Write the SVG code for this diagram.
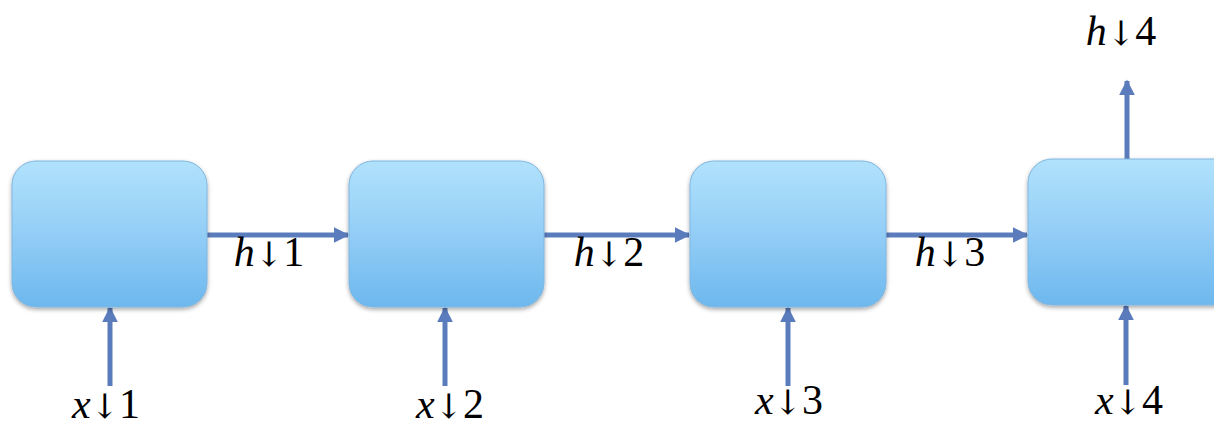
<svg xmlns="http://www.w3.org/2000/svg" width="1214" height="425" viewBox="0 0 1214 425">
<style>
.lbl{font-family:"Liberation Serif","Times New Roman",serif;font-size:42px;fill:#000;text-anchor:middle}
.it{font-style:italic}
.ar{font-family:"DejaVu Serif",serif;font-style:italic;font-size:34px}
.con{stroke:#5b7cbc;stroke-width:5;fill:none;marker-end:url(#ah)}
.box{fill:url(#g);stroke:#7fb6e0;stroke-width:1;filter:url(#sh)}
</style>
<defs>
<linearGradient id="g" x1="0" y1="0" x2="0" y2="1">
<stop offset="0" stop-color="#b1e2fc"/>
<stop offset="0.5" stop-color="#93cdf6"/>
<stop offset="1" stop-color="#6db8ee"/>
</linearGradient>
<filter id="sh" x="-10%" y="-10%" width="120%" height="125%">
<feDropShadow dx="0" dy="2" stdDeviation="2" flood-color="#000" flood-opacity="0.35"/>
</filter>
<marker id="ah" viewBox="0 0 10 10" refX="9" refY="5" markerWidth="3.2" markerHeight="3.2" orient="auto" markerUnits="strokeWidth">
<path d="M0,0 L10,5 L0,10 z" fill="#5b7cbc"/>
</marker>
</defs>
<g id="connectors">
<line class="con" x1="207" y1="235" x2="348" y2="235"/>
<line class="con" x1="544" y1="235" x2="689" y2="235"/>
<line class="con" x1="886" y1="235" x2="1027" y2="235"/>
<line class="con" x1="110" y1="386" x2="110" y2="308"/>
<line class="con" x1="445" y1="386" x2="445" y2="308"/>
<line class="con" x1="788" y1="386" x2="788" y2="308"/>
<line class="con" x1="1126" y1="385" x2="1126" y2="306"/>
<line class="con" x1="1127" y1="159" x2="1127" y2="81"/>
</g>
<g id="node1"><rect class="box" x="12" y="161" width="195" height="146" rx="24"/></g>
<g id="node2"><rect class="box" x="349" y="161" width="195" height="146" rx="24"/></g>
<g id="node3"><rect class="box" x="690" y="161" width="196" height="146" rx="24"/></g>
<g id="node4"><rect class="box" x="1028" y="159" width="210" height="146" rx="24"/></g>
<g id="labels">
<text class="lbl" x="106" y="418"><tspan class="it">x</tspan><tspan class="ar">↓</tspan>1</text>
<text class="lbl" x="450" y="418"><tspan class="it">x</tspan><tspan class="ar">↓</tspan>2</text>
<text class="lbl" x="789" y="414"><tspan class="it">x</tspan><tspan class="ar">↓</tspan>3</text>
<text class="lbl" x="1129" y="414"><tspan class="it">x</tspan><tspan class="ar">↓</tspan>4</text>
<text class="lbl" x="269" y="266"><tspan class="it">h</tspan><tspan class="ar">↓</tspan>1</text>
<text class="lbl" x="609" y="266"><tspan class="it">h</tspan><tspan class="ar">↓</tspan>2</text>
<text class="lbl" x="950" y="266"><tspan class="it">h</tspan><tspan class="ar">↓</tspan>3</text>
<text class="lbl" x="1121" y="45"><tspan class="it">h</tspan><tspan class="ar">↓</tspan>4</text>
</g>
</svg>
